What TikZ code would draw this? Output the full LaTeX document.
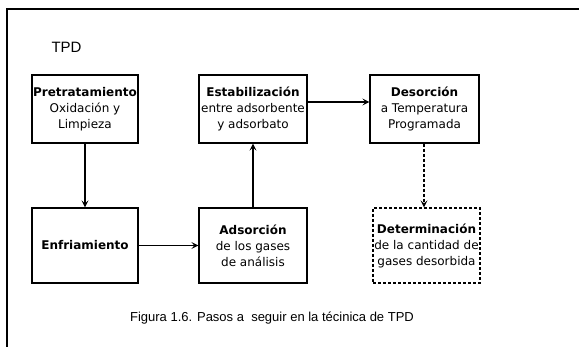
\documentclass[tikz,border=0pt]{standalone}
\usepackage{fontspec}
\setmainfont{DejaVu Sans}
\newfontfamily\arialf{Liberation Sans}
\usetikzlibrary{arrows.meta}
\begin{document}
\begin{tikzpicture}[x=1pt,y=-1pt,
  box/.style={draw,line width=1.3pt,align=center,inner sep=0pt,
    font=\fontsize{12}{16}\selectfont},
  dbox/.style={box,dash pattern=on 3pt off 2pt},
  arr/.style={line width=1.2pt,-{Stealth[length=7pt,width=7pt,inset=3pt]}},
  darr/.style={arr,dash pattern=on 3pt off 2pt}]
\useasboundingbox (0,0) rectangle (579,347);
\draw[line width=1.6pt] (7,348) -- (7,9) -- (580,9);
\node[anchor=west,font=\arialf\fontsize{15}{18}\selectfont] (tpd) at (48,47) {TPD};
\node[box,minimum width=106pt,minimum height=68pt] (pre) at (85,109) {\textbf{Pretratamiento}\\Oxidación y\\Limpieza};
\node[box,minimum width=108pt,minimum height=68pt] (est) at (253,109) {\textbf{Estabilización}\\entre adsorbente\\y adsorbato};
\node[box,minimum width=109pt,minimum height=68pt] (des) at (424.5,109) {\textbf{Desorción}\\a Temperatura\\Programada};
\node[box,minimum width=106pt,minimum height=75pt] (enf) at (85,245.5) {\textbf{Enfriamiento}};
\node[box,minimum width=108pt,minimum height=75pt] (ads) at (253,245.5) {\textbf{Adsorción}\\de los gases\\de análisis};
\node[dbox,minimum width=107pt,minimum height=75pt] (det) at (426.5,245.5) {\textbf{Determinación}\\de la cantidad de\\gases desorbida};
\draw[arr] (pre.south) -- (enf.north);
\draw[arr] (enf) -- (ads);
\draw[arr] (ads.north) -- (est.south);
\draw[arr] (est.east |- 0,102) -- (des.west |- 0,102);
\draw[darr] (des.south -| 424,0) -- (det.north -| 424,0);
\node[font=\arialf\fontsize{13}{16}\selectfont] (cap) at (272,318) {Figura 1.6. Pasos a\ \ seguir en la técinica de TPD};
\end{tikzpicture}
\end{document}
